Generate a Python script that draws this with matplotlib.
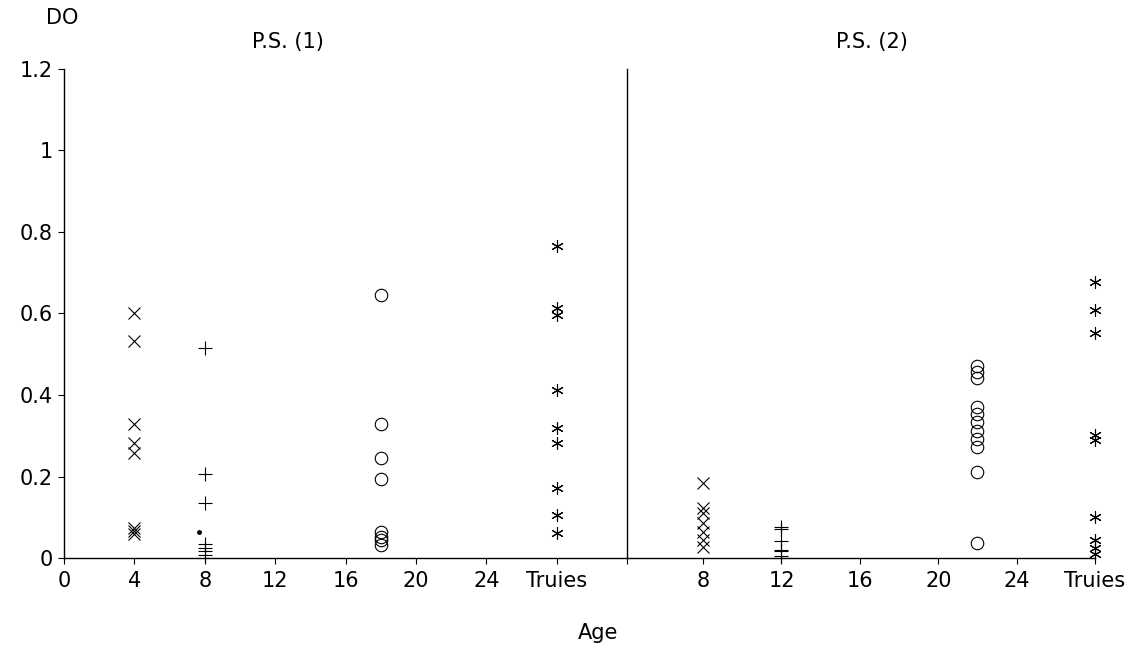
import matplotlib
matplotlib.use('Agg')
import matplotlib.pyplot as plt

# values (DO by age), Truies plotted at position 28
truies_pos = 28

# P.S. (1)
ps1_age4_x = [0.600, 0.532, 0.328, 0.281, 0.257, 0.073, 0.067, 0.060]
ps1_age8_plus = [0.515, 0.206, 0.134, 0.034, 0.024, 0.016, 0.007]
ps1_dot_x = [7.7]
ps1_dot_y = [0.065]
ps1_age18_o = [0.645, 0.329, 0.245, 0.194, 0.065, 0.052, 0.044, 0.032]
ps1_truies = [0.765, 0.613, 0.596, 0.412, 0.318, 0.281, 0.171, 0.105, 0.062]

# P.S. (2)
ps2_age8_x = [0.183, 0.122, 0.111, 0.085, 0.063, 0.044, 0.028]
ps2_age12_plus = [0.077, 0.070, 0.042, 0.020, 0.016, 0.005]
ps2_age22_o = [0.471, 0.457, 0.441, 0.371, 0.353, 0.333, 0.312, 0.292, 0.272, 0.212, 0.036]
ps2_truies = [0.678, 0.609, 0.553, 0.302, 0.290, 0.101, 0.044, 0.025, 0.010]

ps1_ticks = [0, 4, 8, 12, 16, 20, 24, 28, 32]
ps1_labels = ['0', '4', '8', '12', '16', '20', '24', 'Truies', '']
ps2_ticks = [8, 12, 16, 20, 24, 28]
ps2_labels = ['8', '12', '16', '20', '24', 'Truies']
y_ticks = [0, 0.2, 0.4, 0.6, 0.8, 1.0, 1.2]
y_labels = ['0', '0.2', '0.4', '0.6', '0.8', '1', '1.2']

plt.rcParams['font.family'] = ['DejaVu Sans']
fs = 15
asterisk = (6, 2, 0)
mk = dict(linestyle='none', color='black', clip_on=False)

fig = plt.figure(figsize=(11.37, 6.49), dpi=100)
ax1 = fig.add_axes([0.0563, 0.1402, 0.4952, 0.7535])
ax2 = fig.add_axes([0.5515, 0.1402, 0.4116, 0.7535])

ax1.plot([4] * len(ps1_age4_x), ps1_age4_x, marker='x', ms=8, mew=0.8, **mk)
ax1.plot([8] * len(ps1_age8_plus), ps1_age8_plus, marker='+', ms=10, mew=0.8, **mk)
ax1.plot(ps1_dot_x, ps1_dot_y, marker='o', ms=2.5, **mk)
ax1.plot([18] * len(ps1_age18_o), ps1_age18_o, marker='o', ms=9, mew=0.8, mfc='none', **mk)
ax1.plot([truies_pos] * len(ps1_truies), ps1_truies, marker=asterisk, ms=9, mew=0.8, **mk)

ax2.plot([8] * len(ps2_age8_x), ps2_age8_x, marker='x', ms=8, mew=0.8, **mk)
ax2.plot([12] * len(ps2_age12_plus), ps2_age12_plus, marker='+', ms=10, mew=0.8, **mk)
ax2.plot([22] * len(ps2_age22_o), ps2_age22_o, marker='o', ms=9, mew=0.8, mfc='none', **mk)
ax2.plot([truies_pos] * len(ps2_truies), ps2_truies, marker=asterisk, ms=9, mew=0.8, **mk)

ax1.set_xlim(0, 32)
ax2.set_xlim(4.12, 28)
for ax in (ax1, ax2):
    ax.set_ylim(0, 1.2)
    ax.spines['top'].set_visible(False)
    ax.spines['right'].set_visible(False)
    for s in ax.spines.values():
        s.set_linewidth(1.0)
    ax.tick_params(axis='x', direction='out', length=4, width=0.8, labelsize=fs, pad=5)
    ax.tick_params(axis='y', direction='out', length=4, width=0.8, labelsize=fs, pad=4)

ax1.set_xticks(ps1_ticks)
ax1.set_xticklabels(ps1_labels)
ax1.set_yticks(y_ticks)
ax1.set_yticklabels(y_labels)

ax2.set_xticks(ps2_ticks)
ax2.set_xticklabels(ps2_labels)
ax2.set_yticks([])

fig.text(62 / 1137, 1 - 18 / 649, 'DO', fontsize=fs, ha='center', va='center')
fig.text(288 / 1137, 1 - 42 / 649, 'P.S. (1)', fontsize=fs, ha='center', va='center')
fig.text(872 / 1137, 1 - 42 / 649, 'P.S. (2)', fontsize=fs, ha='center', va='center')
fig.text(598 / 1137, 1 - 633 / 649, 'Age', fontsize=fs, ha='center', va='center')

plt.savefig('out.png', dpi=100)
